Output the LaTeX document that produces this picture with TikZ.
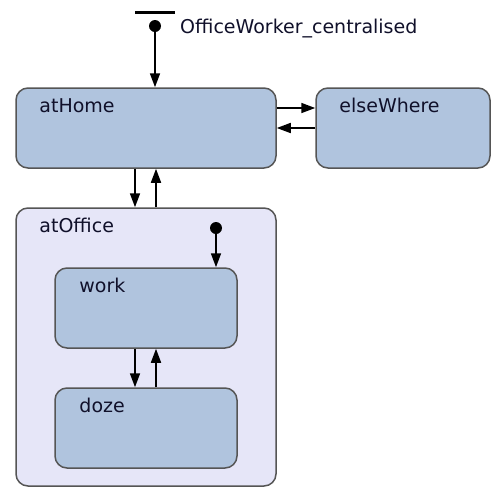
\documentclass[tikz,border=0pt]{standalone}
\usepackage{fontspec}
\setmainfont{DejaVu Sans}
\usetikzlibrary{arrows.meta}
\definecolor{statefill}{HTML}{B0C4DE}
\definecolor{compfill}{HTML}{E6E6F8}
\definecolor{border}{HTML}{555555}
\definecolor{txt}{HTML}{10102A}
\tikzset{
  statebox/.style={draw=border, line width=1.5pt, fill=statefill, rounded corners=12pt, inner sep=0pt},
  compbox/.style={draw=border, line width=1.5pt, fill=compfill, rounded corners=12pt, inner sep=0pt},
  lbl/.style={anchor=base west, inner sep=0pt, text=txt, font=\fontsize{19}{21}\selectfont},
  arr/.style={line width=1.6pt, -{Triangle[length=14pt,width=10pt]}},
  initdot/.style={circle, fill=black, inner sep=0pt, minimum size=12pt}
}
\begin{document}
\begin{tikzpicture}[x=1pt,y=-1pt]
\useasboundingbox (0,0) rectangle (491,488);
% top initial state
\draw[line width=3pt] (135,12) -- (175,12);
\node[initdot] (init) at (155,26) {};
\node[lbl] (title) at (180,33) {OfficeWorker\_centralised};
% states
\node[statebox, minimum width=260pt, minimum height=80pt] (atHome) at (146,128) {};
\node[statebox, minimum width=174pt, minimum height=80pt] (elseWhere) at (403,128) {};
\node[compbox, minimum width=260pt, minimum height=278pt] (atOffice) at (146,347) {};
\node[statebox, minimum width=182pt, minimum height=80pt] (work) at (146,308) {};
\node[statebox, minimum width=182pt, minimum height=80pt] (doze) at (146,428) {};
\node[initdot] (init2) at (216,228) {};
% labels
\node[lbl] (lHome) at ([xshift=24pt,yshift=-25pt]atHome.north west) {atHome};
\node[lbl] (lElse) at ([xshift=24pt,yshift=-25pt]elseWhere.north west) {elseWhere};
\node[lbl] (lOffice) at ([xshift=24pt,yshift=-25pt]atOffice.north west) {atOffice};
\node[lbl] (lWork) at ([xshift=25pt,yshift=-25pt]work.north west) {work};
\node[lbl] (lDoze) at ([xshift=25pt,yshift=-25pt]doze.north west) {doze};
% transitions
\draw[arr] (init) -- (init |- atHome.north);
\draw[arr] ([yshift=20pt]atHome.east) -- ([yshift=20pt]elseWhere.west);
\draw[arr] (elseWhere.west) -- (atHome.east);
\draw[arr] ([xshift=-11pt]atHome.south) -- ([xshift=-11pt]atOffice.north);
\draw[arr] ([xshift=10pt]atOffice.north) -- ([xshift=10pt]atHome.south);
\draw[arr] (init2) -- (init2 |- work.north);
\draw[arr] ([xshift=-11pt]work.south) -- ([xshift=-11pt]doze.north);
\draw[arr] ([xshift=10pt]doze.north) -- ([xshift=10pt]work.south);
\end{tikzpicture}
\end{document}
